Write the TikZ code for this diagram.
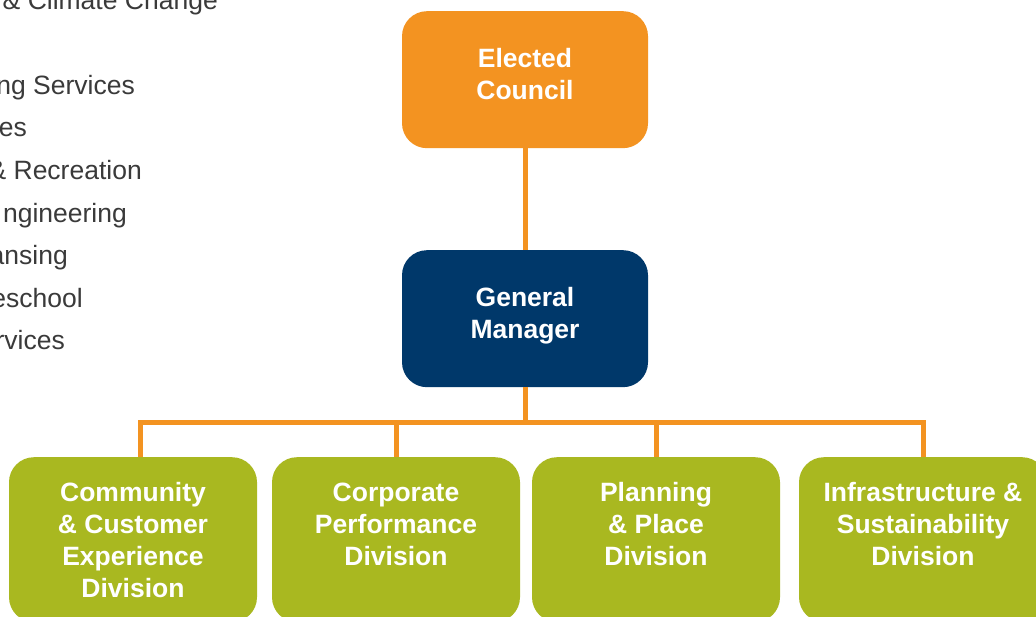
\documentclass[tikz,border=0pt]{standalone}
\usepackage{fontspec}
\setmainfont{Liberation Sans}
\definecolor{councilorange}{HTML}{F39321}
\definecolor{gmnavy}{HTML}{00386A}
\definecolor{divgreen}{HTML}{A9B820}
\definecolor{listgray}{HTML}{3A3A3A}
\newcommand{\boxtext}[1]{\parbox[t]{240pt}{\centering #1}}
\tikzset{
  unit/.style={rectangle, rounded corners=25pt, inner sep=0pt, text=white, anchor=north,
    font=\fontsize{26.5}{32}\selectfont\bfseries},
  topunit/.style={unit, minimum width=246pt, text height=56pt, text depth=81pt},
  divunit/.style={unit, fill=divgreen, minimum width=248pt, text height=44pt, text depth=121pt},
  link/.style={draw=councilorange, line width=5pt},
  listitem/.style={anchor=base east, inner sep=0pt, text=listgray, font=\fontsize{26.5}{32}\selectfont}
}
\begin{document}
\begin{tikzpicture}[x=1pt,y=-1pt]
\useasboundingbox (0,0) rectangle (1036,617);
\clip (0,0) rectangle (1036,617);
\fill[white] (0,0) rectangle (1036,617);
% list of services, cut by the page edge
\foreach \t/\x/\y [count=\i] in {{\& Climate Change}/218/10, {ng Services}/135/95, {es}/27/137,
    {\& Recreation}/142/180, {ngineering}/127/223, {ansing}/68/265, {eschool}/83/308, {rvices}/65/350}
  \node[listitem] (svc\i) at (\x,\y) {\t};
% units
\node[topunit, fill=councilorange] (council) at (525,11) {\boxtext{Elected\\Council}};
\node[topunit, fill=gmnavy] (gm) at (525,250) {\boxtext{General\\Manager}};
\node[divunit] (com) at (133,457) {\boxtext{Community\\\& Customer\\Experience\\Division}};
\node[divunit] (cor) at (396,457) {\boxtext{Corporate\\Performance\\Division}};
\node[divunit] (pla) at (656,457) {\boxtext{Planning\\\& Place\\Division}};
\node[divunit] (inf) at (923,457) {\boxtext{Infrastructure \&\\Sustainability\\Division}};
% connectors
\coordinate (bar) at (0,422);
\draw[link] (council) -- (gm);
\draw[link] (gm) -- (gm |- bar);
\draw[link] ([xshift=7pt]com.north) -- ([xshift=7pt]com.north |- bar) -- (inf |- bar) -- (inf);
\foreach \n in {cor,pla}
  \draw[link] (\n |- bar) -- (\n);
\end{tikzpicture}
\end{document}
